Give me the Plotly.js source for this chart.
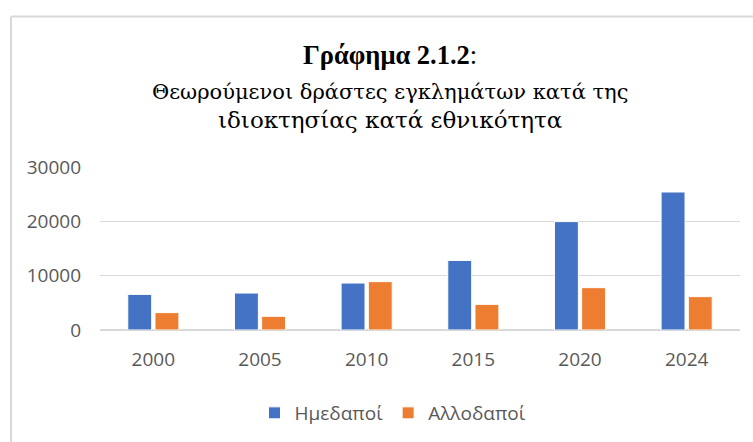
<!DOCTYPE html>
<html>
<head>
<meta charset="utf-8">
<script src="https://cdn.plot.ly/plotly-3.0.1.min.js"></script>
<style>html,body{margin:0;padding:0;background:#fff;}#chart{width:753px;height:442px;}</style>
</head>
<body>
<div id="chart"></div>
<script>
const years = ['2000', '2005', '2010', '2015', '2020', '2024'];
const imedapoi = [6560, 6800, 8640, 12800, 19950, 25400];
const allodapoi = [3200, 2520, 8900, 4720, 7790, 6140];
const seriesNames = ['Ημεδαποί', 'Αλλοδαποί'];
const yTicks = [0, 10000, 20000, 30000];
const titleLines = ['<b>Γράφημα 2.1.2</b>:', 'Θεωρούμενοι δράστες εγκλημάτων κατά της', 'ιδιοκτησίας κατά εθνικότητα'];

const L = 100, R = 13, T = 167, B = 112;
const W = 753, H = 442;
const pw = W - L - R, ph = H - T - B;
const px = v => (v - L) / pw;
const py = v => (H - B - v) / ph;

const traces = [
  {type: 'bar', x: years, y: imedapoi, name: seriesNames[0],
   marker: {color: '#4472C4', line: {color: '#ffffff', width: 1}}},
  {type: 'bar', x: years, y: allodapoi, name: seriesNames[1],
   marker: {color: '#ED7D31', line: {color: '#ffffff', width: 1}}}
];

const titleFonts = [
  {family: 'Liberation Serif, Times New Roman, serif', size: 26.5, color: '#000000'},
  {family: 'DejaVu Serif, serif', size: 21, color: '#000000'},
  {family: 'DejaVu Serif, serif', size: 23, color: '#000000'}
];
const titleCenters = [55.5, 91.5, 120];
const annotations = titleLines.map((t, i) => ({
  text: t, xref: 'paper', yref: 'paper', x: px(390), y: py(titleCenters[i]),
  xanchor: 'center', yanchor: 'middle', showarrow: false, font: titleFonts[i]
}));

const tickFont = {family: 'Open Sans, Noto Sans, sans-serif', size: 19, color: '#595959'};

const layout = {
  width: W, height: H,
  margin: {l: L, r: R, t: T, b: B, pad: 0},
  paper_bgcolor: '#ffffff', plot_bgcolor: '#ffffff',
  barmode: 'group', bargap: 0.49, bargroupgap: 0.12,
  annotations: annotations,
  xaxis: {
    type: 'category', tickfont: tickFont,
    showgrid: false, showline: false, ticks: '', ticklabelstandoff: 16
  },
  yaxis: {
    range: [0, 30000], tickvals: yTicks, ticktext: yTicks.map(String),
    tickfont: tickFont,
    showgrid: true, gridcolor: '#d9d9d9', gridwidth: 1.6,
    zeroline: true, zerolinecolor: '#d9d9d9', zerolinewidth: 1.6,
    showline: false, ticks: '', ticklabelstandoff: 18, fixedrange: true
  },
  legend: {
    orientation: 'h', x: 393 / W, xref: 'container', xanchor: 'center',
    y: 1 - 413 / H, yref: 'container', yanchor: 'middle',
    font: tickFont, bgcolor: 'rgba(0,0,0,0)'
  },
  shapes: [
    {type: 'line', xref: 'paper', yref: 'paper', x0: px(11), x1: px(11), y0: py(16.5), y1: py(460),
     line: {color: '#d9d9d9', width: 2}},
    {type: 'line', xref: 'paper', yref: 'paper', x0: px(11), x1: px(770), y0: py(16.5), y1: py(16.5),
     line: {color: '#d9d9d9', width: 2}}
  ],
  showlegend: true
};

Plotly.newPlot('chart', traces, layout, {displayModeBar: false, staticPlot: true});
</script>
</body>
</html>
